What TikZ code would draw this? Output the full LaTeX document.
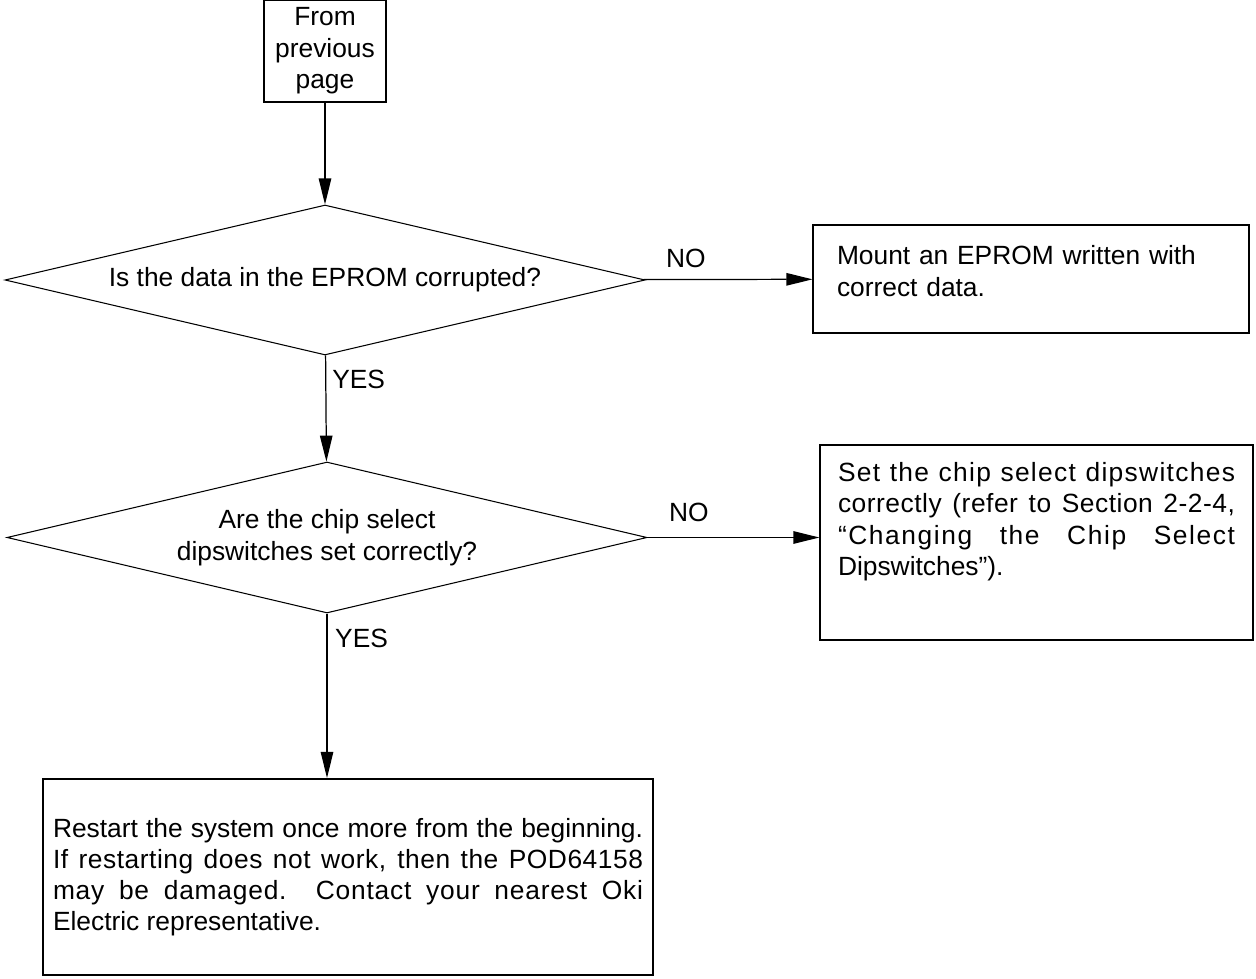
\documentclass[tikz,border=0pt]{standalone}
\usepackage{fontspec}
\setmainfont{Liberation Sans}
\usetikzlibrary{arrows.meta, shapes.geometric}

\newcommand{\spaced}[2]{{\addfontfeature{LetterSpace=#1}#2}}

\begin{document}
\begin{tikzpicture}[
    >={Triangle[length=5.2mm, width=2.5mm]},
    every node/.style={font=\fontsize{15}{18}\selectfont},
    box/.style={
        draw, line width=0.7pt, align=left, inner xsep=0pt
    },
    decision/.style={
        draw, diamond, aspect=4.27, inner sep=0pt, line width=0.6pt,
        minimum width=12.8cm, minimum height=3cm, align=center
    },
    flow/.style={->, line width=0.7pt},
]
\useasboundingbox (0,0) rectangle (25.12,-19.58);

% ---- main column ----
\node[box, align=center, line width=0.6pt, inner sep=0pt,
      minimum width=2.44cm, minimum height=2.04cm] (start) at (6.5,-1.02)
    {From\\ previous\\ page};
\node[decision] (corrupt) at (6.5,-5.6)
    {Is the data in the EPROM corrupted?};
\node[decision, minimum height=3.02cm] (chipsel) at (6.54,-10.75)
    {Are the chip select\\ dipswitches set correctly?};
\node[box, align=justify, line width=1.2pt, minimum width=12.2cm, minimum height=3.92cm,
      text width=11.8cm, font=\fontsize{15}{17.6}\selectfont] (restart) at (6.96,-17.54)
    {Restart the system once more from the beginning.\linebreak
     \spaced{2}{If restarting does not work, then the POD64158}\linebreak
     \spaced{3}{may be damaged.\ \ Contact your nearest Oki}\linebreak
     Electric representative.};

% ---- actions on the right ----
\node[box, minimum width=8.72cm, text width=7.76cm, inner ysep=0.4cm,
      text height=0.4cm, text depth=0.96cm] (mount) at (20.62,-5.58)
    {Mount an EPROM written with correct data.};
\node[box, align=justify, minimum width=8.66cm, text width=7.94cm, inner ysep=0.32cm,
      text height=0.4cm, text depth=2.86cm] (dipsw) at (20.73,-10.85)
    {\spaced{5}{Set the chip select dipswitches}\linebreak
     \spaced{2}{correctly (refer to Section 2-2-4,}\linebreak
     \spaced{6}{“Changing the Chip Select}\linebreak
     Dipswitches”).};

% ---- connectors ----
\draw[flow] (start) -- (corrupt);
\draw[flow] (corrupt) -- (mount) node[pos=0.25, above=3pt] {NO};
\draw[flow] (corrupt) -- (chipsel) node[pos=0.23, right] {YES};
\draw[flow] (chipsel.east) -- (chipsel.east -| dipsw.west)
    node[pos=0.24, above=5pt] {NO};
\draw[flow] (chipsel.south) -- (chipsel.south |- restart.north)
    node[pos=0.15, right=1pt] {YES};

\end{tikzpicture}
\end{document}
